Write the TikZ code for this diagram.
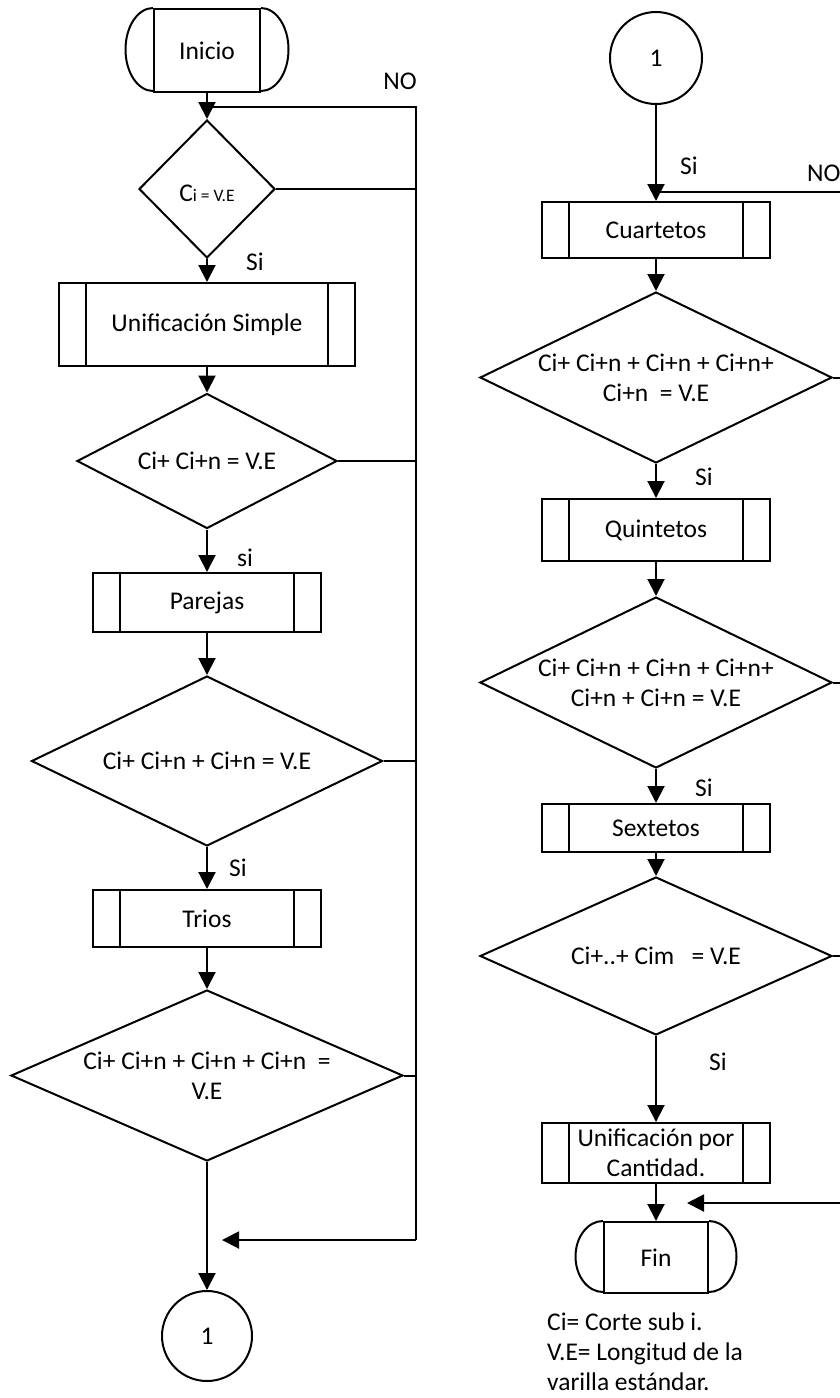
\documentclass[tikz,border=0pt]{standalone}
\usepackage{fontspec}
\setmainfont{Carlito}
\usetikzlibrary{shapes.geometric,arrows.meta,calc}
\newcommand{\txt}{\fontsize{25.5}{30}\selectfont}
\newcommand{\subtxt}{\fontsize{17.5}{20}\selectfont}
\newcommand{\terminal}[5]
{   \node[termbox, minimum width=#3, minimum height=#4] (#1) at (#2) {#5};
    \draw[flow] (#1.north west) arc[start angle=90, end angle=270, x radius=27.5pt, y radius=#4/2];
    \draw[flow] (#1.north east) arc[start angle=90, end angle=-90, x radius=27.5pt, y radius=#4/2];
}
\tikzset{
  flow/.style={line width=2pt},
  arr/.style={flow, -{Triangle[length=17pt,width=17pt]}},
  termbox/.style={draw, flow, inner sep=0pt},
  subproc/.style={draw, flow, minimum width=228pt, inner sep=0pt, align=center,
    path picture={\draw[flow] ([xshift=27pt]path picture bounding box.north west) -- ([xshift=27pt]path picture bounding box.south west)
      ([xshift=-27pt]path picture bounding box.north east) -- ([xshift=-27pt]path picture bounding box.south east);}},
  decision/.style={draw, flow, diamond, inner sep=0pt},
  conn/.style={draw, flow, circle, minimum size=#1, inner sep=0pt},
  lbl/.style={inner sep=0pt}
}

\begin{document}
\begin{tikzpicture}[x=1pt, y=-1pt, every node/.style={font=\txt}]
 \useasboundingbox (0,0) rectangle (840,1398);
 \clip (0,0) rectangle (840,1398);

 % left column
 \terminal{ini}{207,50.5}{106pt}{83pt}{Inicio}
 \node[decision, minimum width=136pt, minimum height=138pt, label={[yshift=-4pt]center:{C{\subtxt i = V.E}}}] (d1) at (207,189) {};
 \node[subproc, minimum width=296pt, minimum height=83pt] (us) at (207,324.5) {Unificación Simple};
 \node[decision, minimum width=260pt, minimum height=135pt, label=center:{Ci+ Ci+n = V.E}] (d2) at (207,461) {};
 \node[subproc, minimum height=59pt] (par) at (207,602.5) {Parejas};
 \node[decision, minimum width=351pt, minimum height=170pt, label=center:{Ci+ Ci+n + Ci+n = V.E}] (d3) at (207,761) {};
 \node[subproc, minimum height=57pt] (tri) at (207,918.5) {Trios};
 \node[decision, minimum width=392pt, minimum height=171pt, label={[align=center]center:Ci+ Ci+n + Ci+n + Ci+n \ =\\V.E}] (d4) at (207,1075.5) {};
 \node[conn=90pt] (c1) at (207,1336) {1};

 \draw[arr] (ini) -- (d1);
 \draw[arr] (d1) -- (us);
 \draw[arr] (us) -- (d2);
 \draw[arr] (d2) -- (par);
 \draw[arr] (par) -- (d3);
 \draw[arr] (d3) -- (tri);
 \draw[arr] (tri) -- (d4);
 \draw[arr] (d4) -- (c1);

 \coordinate (busT) at (416,107);
 \coordinate (busB) at (416,1240);
 \coordinate (retL) at (222,1240);
 \draw[flow] (busT -| d1.north) -- (busT) -- (busB);
 \foreach \d in {d1,d2,d3,d4}
   \draw[flow] (\d.east) -- (\d.east -| busT);
 \draw[arr] (busB) -- (retL);

 \node[lbl] (no1) at (400,81) {NO};
 \node[lbl] (si1) at (255,262) {Si};
 \node[lbl] (si2) at (245,558) {si};
 \node[lbl] (si3) at (238,868) {Si};

 % right column
 \node[conn=92pt] (c2) at (656,58) {1};
 \node[subproc, minimum height=56pt] (cua) at (656,230) {Cuartetos};
 \node[decision, minimum width=352pt, minimum height=171pt, label={[align=center]center:Ci+ Ci+n + Ci+n + Ci+n+\\Ci+n \ = V.E}] (d5) at (656,377.5) {};
 \node[subproc, minimum height=62pt] (qui) at (656,530) {Quintetos};
 \node[decision, minimum width=352pt, minimum height=171pt, label={[align=center]center:Ci+ Ci+n + Ci+n + Ci+n+\\Ci+n + Ci+n = V.E}] (d6) at (656,682.5) {};
 \node[subproc, minimum height=48pt] (sex) at (656,828) {Sextetos};
 \node[decision, minimum width=352pt, minimum height=158pt, label=center:{Ci+..+ Cim \ \ = V.E}] (d7) at (656,956) {};
 \node[subproc, minimum height=60pt] (uc) at (656,1153) {Unificación por\\Cantidad.};
 \terminal{fin}{656,1257.5}{104pt}{71pt}{Fin}

 \draw[arr] (c2) -- (cua);
 \draw[arr] (cua) -- (d5);
 \draw[arr] (d5) -- (qui);
 \draw[arr] (qui) -- (d6);
 \draw[arr] (d6) -- (sex);
 \draw[arr] (sex) -- (d7);
 \draw[arr] (d7) -- (uc);
 \draw[arr] (uc) -- (fin);

 \coordinate (noR) at (850,192);
 \coordinate (finR) at (850,1203);
 \coordinate (finL) at (687,1203);
 \draw[flow] (noR -| c2.south) -- (noR);
 \foreach \d in {d5,d6,d7}
   \draw[flow] (\d.east) -- (\d.east -| noR);
 \draw[arr] (finR) -- (finL);

 \node[lbl, anchor=west] (no2) at (807,173) {NO};
 \node[lbl] (si4) at (689,166) {Si};
 \node[lbl] (si5) at (704,477) {Si};
 \node[lbl] (si6) at (704,788) {Si};
 \node[lbl] (si7) at (718,1062) {Si};

 \node[lbl, anchor=north west, align=left] (nota) at (547,1313) {Ci= Corte sub i.\\V.E= Longitud de la\\varilla estándar.};
\end{tikzpicture}
\end{document}
